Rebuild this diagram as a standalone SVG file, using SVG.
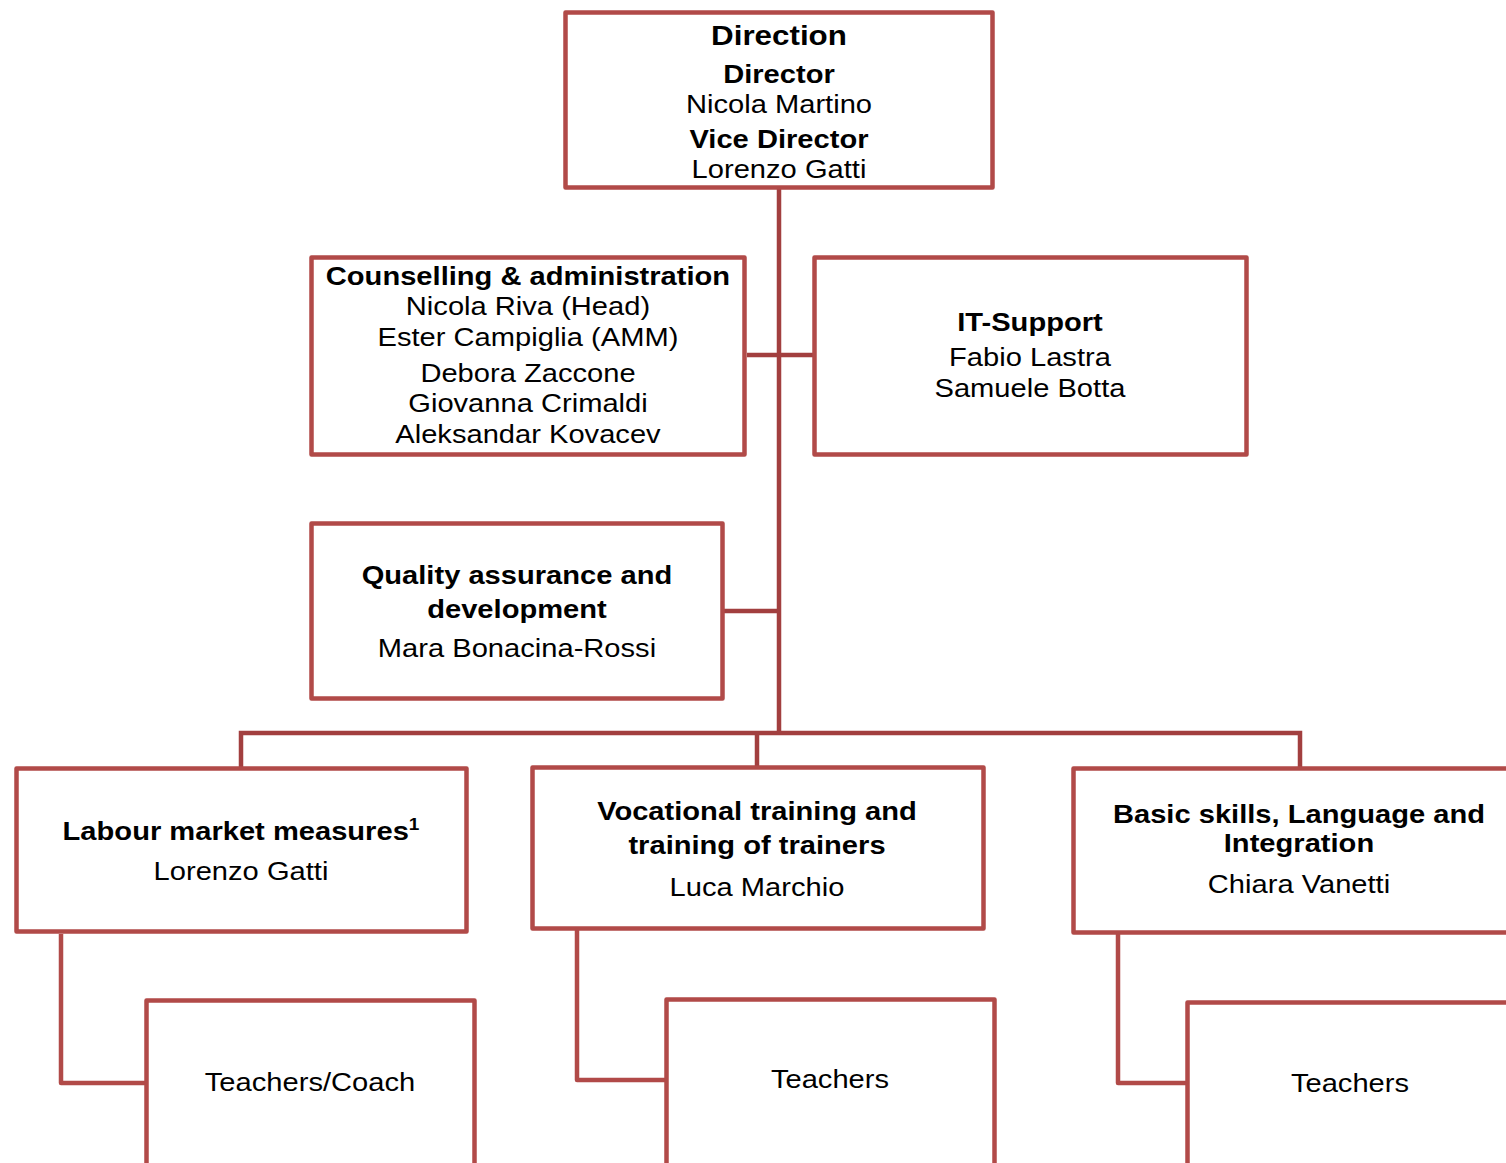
<svg xmlns="http://www.w3.org/2000/svg" width="1506" height="1163" viewBox="0 0 1506 1163">
<style>
.box{fill:#fff;stroke:#b14a48;stroke-width:4.5;stroke-linejoin:round}
.con{fill:none;stroke:#a23f3f;stroke-width:4.5}
.sub{fill:none;stroke:#b14a48;stroke-width:4.5;stroke-linejoin:round}
text{font-family:"Liberation Sans",Arial,sans-serif;font-size:26px;fill:#000;text-anchor:middle;transform-box:fill-box;transform-origin:center;transform:scaleX(1.12)}
.b{font-weight:bold}
</style>
<rect width="1506" height="1163" fill="#fff"/>
<g id="connectors">
<path class="con" d="M779 189V735"/>
<path class="con" d="M747 355H814"/>
<path class="con" d="M724 611H779"/>
<path class="con" d="M241 768V733H1300V768"/>
<path class="con" d="M757 733V767"/>
<path class="sub" d="M61 934V1083H146"/>
<path class="sub" d="M577 930V1080H666"/>
<path class="sub" d="M1118 934V1083H1187"/>
</g>
<g id="direction">
<rect class="box" x="565.5" y="12.5" width="427" height="175"/>
<text class="b" x="779" y="45" style="font-size:28px">Direction</text>
<text class="b" x="779" y="83">Director</text>
<text x="779" y="113">Nicola Martino</text>
<text class="b" x="779" y="148">Vice Director</text>
<text x="779" y="178">Lorenzo Gatti</text>
</g>
<g id="counselling">
<rect class="box" x="311.5" y="257.5" width="433" height="197"/>
<text class="b" x="528" y="285">Counselling &amp; administration</text>
<text x="528" y="315">Nicola Riva (Head)</text>
<text x="528" y="346">Ester Campiglia (AMM)</text>
<text x="528" y="382">Debora Zaccone</text>
<text x="528" y="412">Giovanna Crimaldi</text>
<text x="528" y="443">Aleksandar Kovacev</text>
</g>
<g id="it-support">
<rect class="box" x="814.5" y="257.5" width="432" height="197"/>
<text class="b" x="1030" y="331">IT-Support</text>
<text x="1030" y="366">Fabio Lastra</text>
<text x="1030" y="397">Samuele Botta</text>
</g>
<g id="quality">
<rect class="box" x="311.5" y="523.5" width="411" height="175"/>
<text class="b" x="517" y="584">Quality assurance and</text>
<text class="b" x="517" y="618">development</text>
<text x="517" y="657">Mara Bonacina-Rossi</text>
</g>
<g id="labour">
<rect class="box" x="16.5" y="768.5" width="450" height="163"/>
<text class="b" x="241" y="840">Labour market measures<tspan style="font-size:17px" dy="-10">1</tspan></text>
<text x="241" y="880">Lorenzo Gatti</text>
</g>
<g id="vocational">
<rect class="box" x="532.5" y="767.5" width="451" height="161"/>
<text class="b" x="757" y="820">Vocational training and</text>
<text class="b" x="757" y="854">training of trainers</text>
<text x="757" y="896">Luca Marchio</text>
</g>
<g id="basic">
<rect class="box" x="1073.5" y="768.5" width="500" height="164"/>
<text class="b" x="1299" y="823">Basic skills, Language and</text>
<text class="b" x="1299" y="852">Integration</text>
<text x="1299" y="893">Chiara Vanetti</text>
</g>
<g id="teachers-coach">
<rect class="box" x="146.5" y="1000.5" width="328" height="200"/>
<text x="310" y="1091">Teachers/Coach</text>
</g>
<g id="teachers-vocational">
<rect class="box" x="666.5" y="999.5" width="328" height="200"/>
<text x="830" y="1088">Teachers</text>
</g>
<g id="teachers-basic">
<rect class="box" x="1187.5" y="1002.5" width="400" height="200"/>
<text x="1350" y="1092">Teachers</text>
</g>
</svg>
